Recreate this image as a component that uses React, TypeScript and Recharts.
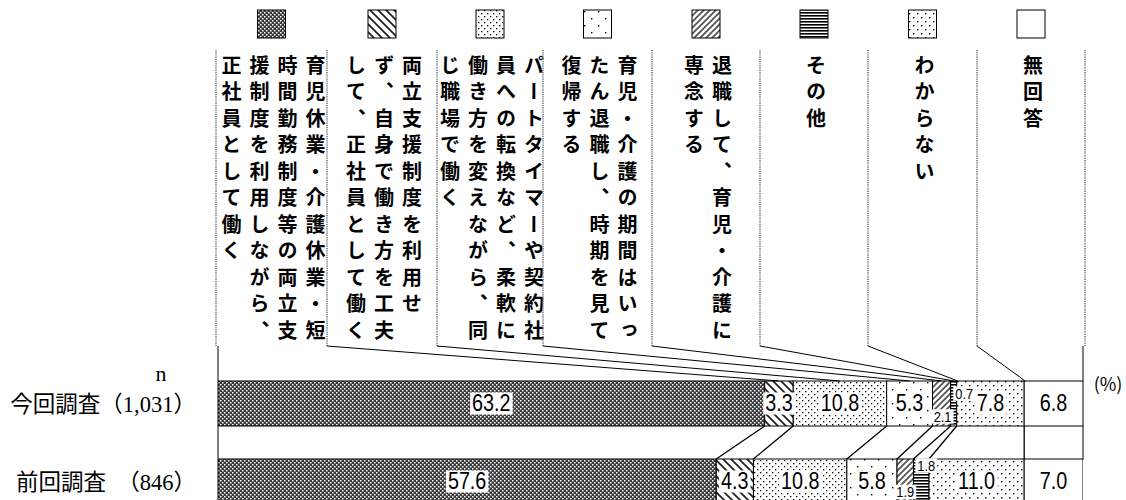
import React from "react";
import { BarChart, Bar, XAxis, YAxis, LabelList, Customized } from "recharts";

// 選択肢（見出しは縦書き、右の行から順に）
const categories = [
  "育児休業・介護休業・短時間勤務制度等の両立支援制度を利用しながら、正社員として働く",
  "両立支援制度を利用せず、自身で働き方を工夫して、正社員として働く",
  "パートタイマーや契約社員への転換など、柔軟に働き方を変えながら、同じ職場で働く",
  "育児・介護の期間はいったん退職し、時期を見て復帰する",
  "退職して、育児・介護に専念する",
  "その他",
  "わからない",
  "無回答",
];
const headerLines = [
  ["育児休業・介護休業・短", "時間勤務制度等の両立支", "援制度を利用しながら、", "正社員として働く"],
  ["両立支援制度を利用せ", "ず、自身で働き方を工夫", "して、正社員として働く"],
  ["パートタイマーや契約社", "員への転換など、柔軟に", "働き方を変えながら、同", "じ職場で働く"],
  ["育児・介護の期間はいっ", "たん退職し、時期を見て", "復帰する"],
  ["退職して、育児・介護に", "専念する"],
  ["その他"],
  ["わからない"],
  ["無回答"],
];
const surveys = ["今回調査", "前回調査"];
const sampleSizes = ["1,031", "846"];
const currentValues = [63.2, 3.3, 10.8, 5.3, 2.1, 0.7, 7.8, 6.8];
const previousValues = [57.6, 4.3, 10.8, 5.8, 1.9, 1.8, 11.0, 7.0];

const keys = categories.map((_, i) => `c${i}`);
const rows = [currentValues, previousValues].map((vals, r) => {
  const row: any = { name: surveys[r] };
  vals.forEach((v, i) => (row[keys[i]] = v));
  return row;
});

// レイアウト
const COL_EDGES = [216, 327, 437, 543, 652, 760, 868, 977, 1085];
const HEADER_TOP = 50;
const HEADER_BOTTOM = 346;
const TEXT_TOP = 55;
const LINE_GAP = 28;
const PLOT_LEFT = 218;
const PLOT_RIGHT = 1083;
const NUM_FONT = "'Liberation Sans', Arial, sans-serif";
const JP_FONT = "'Noto Sans CJK JP', sans-serif";
const NARROW = 0.86;

// 小さい値のラベル位置のずらし
const smallLabels: Record<string, { dx: number; dy: number }> = {
  "0-4": { dx: 1, dy: 13 },
  "0-5": { dx: 10.5, dy: -10 },
  "1-4": { dx: 0, dy: 10.5 },
  "1-5": { dx: 5, dy: -16 },
};

// 描画済みの棒の位置（系列線・ラベル用）
const geom: Record<number, Record<number, { x: number; y: number; w: number; h: number }>> = { 0: {}, 1: {} };

const textWidth = (s: string, fs: number) =>
  s.split("").reduce((w, ch) => w + (ch === "." ? 0.278 : 0.556), 0) * fs * NARROW;

const Patterns = () => (
  <defs>
    <pattern id="pat0" width="4" height="4" patternUnits="userSpaceOnUse">
      <rect width="4" height="4" fill="#3a3a3a" />
      <rect x="0" y="0" width="1.5" height="1.5" fill="#fff" />
      <rect x="2" y="2" width="1.5" height="1.5" fill="#fff" />
    </pattern>
    <pattern id="pat1" width="8" height="8" patternUnits="userSpaceOnUse">
      <rect width="8" height="8" fill="#fff" />
      <path d="M0,0 L8,8 M-2,6 L2,10 M6,-2 L10,2" stroke="#222" strokeWidth="1.8" />
    </pattern>
    <pattern id="pat2" width="6" height="6" patternUnits="userSpaceOnUse">
      <rect width="6" height="6" fill="#fff" />
      <rect x="1" y="1" width="1.3" height="1.3" fill="#000" />
      <rect x="4" y="4" width="1.3" height="1.3" fill="#000" />
    </pattern>
    <pattern id="pat3" width="14" height="14" patternUnits="userSpaceOnUse">
      <rect width="14" height="14" fill="#fff" />
      <rect x="3" y="4" width="1.4" height="1.4" fill="#000" />
      <rect x="10" y="11" width="1.4" height="1.4" fill="#000" />
    </pattern>
    <pattern id="pat4" width="6" height="6" patternUnits="userSpaceOnUse">
      <rect width="6" height="6" fill="#fff" />
      <path d="M0,6 L6,0 M-2,2 L2,-2 M4,8 L8,4" stroke="#555" strokeWidth="1.8" />
    </pattern>
    <pattern id="pat5" width="4" height="3" patternUnits="userSpaceOnUse">
      <rect width="4" height="3" fill="#fff" />
      <rect x="0" y="0" width="4" height="1.6" fill="#000" />
    </pattern>
    <pattern id="pat6" width="8" height="8" patternUnits="userSpaceOnUse">
      <rect width="8" height="8" fill="#fff" />
      <rect x="1" y="1" width="1.4" height="1.4" fill="#000" />
      <rect x="5" y="5" width="1.4" height="1.4" fill="#000" />
    </pattern>
    <pattern id="pat7" width="4" height="4" patternUnits="userSpaceOnUse">
      <rect width="4" height="4" fill="#fff" />
    </pattern>
  </defs>
);

const makeShape = (k: number) => (p: any) => {
  const { x, y, width, height, index } = p;
  geom[index][k] = { x, y, w: width, h: height };
  const parts = [
    <rect key="r" x={x} y={y} width={width} height={height} fill={`url(#pat${k})`} stroke="#000" strokeWidth={1} />,
  ];
  // 見出しからの引き出し線
  if (index === 0 && k > 0) {
    const tx = k >= 6 ? x + 1 : x + width / 2;
    parts.push(<line key="l" x1={COL_EDGES[k]} y1={HEADER_BOTTOM} x2={tx} y2={y} stroke="#000" strokeWidth={1} />);
  }
  // 今回と前回をつなぐ線
  if (index === 1 && k < keys.length - 1 && geom[0][k]) {
    const g = geom[0][k];
    parts.push(
      <line key="c" x1={g.x + g.w} y1={g.y + g.h} x2={x + width} y2={y} stroke="#000" strokeWidth={1.3} />
    );
  }
  return <g>{parts}</g>;
};

const renderLabels = (p: any) => {
  const r = p.index;
  const vals = r === 0 ? currentValues : previousValues;
  return (
    <g>
      {vals.map((v, k) => {
        const g = geom[r] && geom[r][k];
        if (!g) return null;
        const st = smallLabels[`${r}-${k}`];
        const fs = st ? 15 : 23;
        const cx = g.x + g.w / 2 + (st ? st.dx : 0);
        const cy = g.y + g.h / 2 + (st ? st.dy : 0);
        const txt = v.toFixed(1);
        const tw = textWidth(txt, fs);
        return (
          <g key={k}>
            <rect x={cx - tw / 2 - 2} y={cy - fs * 0.48} width={tw + 4} height={fs * 0.96} fill="#fff" />
            <text
              transform={`translate(${cx},${cy}) scale(${NARROW},1)`}
              textAnchor="middle"
              dominantBaseline="central"
              fontSize={fs}
              fontFamily={NUM_FONT}
              fill="#000"
            >
              {txt}
            </text>
          </g>
        );
      })}
    </g>
  );
};

const SurveyTick = (p: any) => {
  const { y, payload } = p;
  const i = surveys.indexOf(payload.value);
  const txt = i === 0 ? `${surveys[0]}（${sampleSizes[0]}）` : `${surveys[1]}　（${sampleSizes[1]}）`;
  const font = "'Liberation Serif', 'Noto Sans CJK JP', serif";
  return (
    <g>
      {i === 0 && (
        <text x={161} y={y - 30} textAnchor="middle" dominantBaseline="central" fontSize={22} fontFamily={font} fill="#000">
          n
        </text>
      )}
      <text x={196} y={y + 1} textAnchor="end" dominantBaseline="central" fontSize={22.5} fontFamily={font} fill="#000">
        {txt}
      </text>
    </g>
  );
};

const Header = () => (
  <g>
    {headerLines.map((lines, k) => {
      const cx = (COL_EDGES[k] + COL_EDGES[k + 1]) / 2;
      return (
        <g key={k}>
          <rect x={cx - 14} y={10} width={28} height={28} fill={`url(#pat${k})`} stroke="#000" strokeWidth={1} />
          {lines.map((ln, i) => (
            <text
              key={i}
              x={cx + 2 + ((lines.length - 1) / 2 - i) * LINE_GAP}
              y={TEXT_TOP}
              style={{ writingMode: "vertical-rl", letterSpacing: "6.5px" }}
              fontSize={20}
              fontWeight={700}
              fontFamily={JP_FONT}
              fill="#000"
            >
              {ln}
            </text>
          ))}
        </g>
      );
    })}
    {COL_EDGES.map((x, i) => (
      <line key={i} x1={x} y1={HEADER_TOP} x2={x} y2={HEADER_BOTTOM} stroke="#777" strokeWidth={1.6} strokeDasharray="1.2 1" />
    ))}
    <line x1={PLOT_LEFT} y1={HEADER_BOTTOM} x2={PLOT_LEFT} y2={500} stroke="#000" strokeWidth={1} />
    <line x1={PLOT_RIGHT} y1={HEADER_BOTTOM} x2={PLOT_RIGHT} y2={460} stroke="#000" strokeWidth={1} />
    <text x={1108} y={383} textAnchor="middle" dominantBaseline="central" fontSize={18} fontFamily={JP_FONT} fill="#000">
      (%)
    </text>
  </g>
);

export default function App() {
  return (
    <div style={{ position: "absolute", left: 0, top: 0, width: 1126, height: 500, overflow: "hidden", background: "#fff" }}>
      <BarChart
        width={1126}
        height={520}
        data={rows}
        layout="vertical"
        barSize={45}
        margin={{ top: 364, right: 1126 - PLOT_RIGHT, bottom: 0, left: 0 }}
      >
        <Patterns />
        <XAxis type="number" domain={[0, 100]} allowDataOverflow hide />
        <YAxis type="category" dataKey="name" width={PLOT_LEFT} axisLine={false} tickLine={false} tick={SurveyTick} />
        {keys.map((key, k) => (
          <Bar key={key} dataKey={key} stackId="a" isAnimationActive={false} shape={makeShape(k)}>
            {k === keys.length - 1 && <LabelList content={renderLabels} />}
          </Bar>
        ))}
        <Customized component={Header} />
      </BarChart>
    </div>
  );
}
